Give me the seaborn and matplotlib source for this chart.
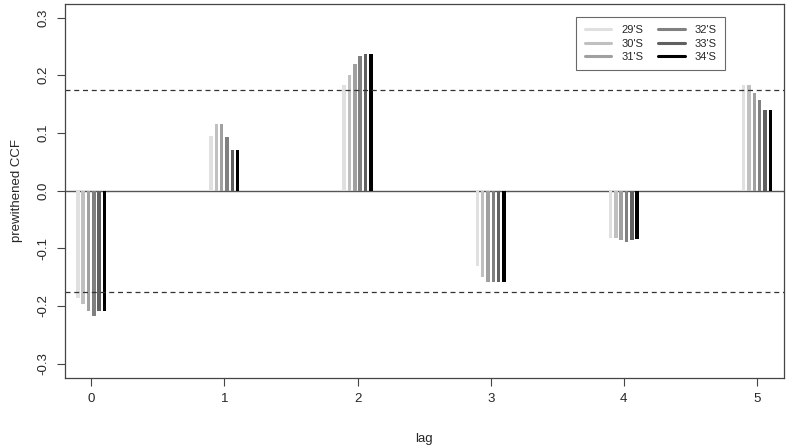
import pandas as pd
import seaborn as sns
import matplotlib
matplotlib.use("Agg")
import matplotlib.pyplot as plt
from matplotlib.lines import Line2D

# data
lags = [0, 1, 2, 3, 4, 5]
latitudes = ["29'S", "30'S", "31'S", "32'S", "33'S", "34'S"]
ccf_29 = [-0.187, 0.094, 0.183, -0.130, -0.082, 0.183]
ccf_30 = [-0.196, 0.116, 0.201, -0.150, -0.082, 0.183]
ccf_31 = [-0.209, 0.116, 0.219, -0.159, -0.085, 0.169]
ccf_32 = [-0.218, 0.093, 0.233, -0.159, -0.089, 0.157]
ccf_33 = [-0.209, 0.071, 0.236, -0.159, -0.085, 0.139]
ccf_34 = [-0.209, 0.071, 0.236, -0.159, -0.084, 0.139]
conf_limit = 0.175

grays = ["#e0e0e0", "#c0c0c0", "#a0a0a0", "#808080", "#606060", "#000000"]

series = [ccf_29, ccf_30, ccf_31, ccf_32, ccf_33, ccf_34]
df = pd.DataFrame(
    [(lag, lat, v) for lat, vals in zip(latitudes, series) for lag, v in zip(lags, vals)],
    columns=["lag", "lat", "ccf"],
)

sns.set_theme(style="ticks")
plt.rcParams["font.family"] = ["Liberation Sans", "DejaVu Sans"]

fig = plt.figure(figsize=(7.88, 4.47), dpi=100)
ax = fig.add_axes([0.0819, 0.155, 0.9126, 0.836])

sns.barplot(data=df, x="lag", y="ccf", hue="lat", hue_order=latitudes,
            palette=grays, width=0.24, gap=0.35, ax=ax, legend=False,
            linewidth=0, saturation=1)

ax.axhline(0, color="#555555", lw=1, zorder=0)
ax.axhline(conf_limit, color="#333333", lw=0.9, ls=(0, (4, 3)))
ax.axhline(-conf_limit, color="#333333", lw=0.9, ls=(0, (4, 3)))

ax.set_xlim(-0.2, 5.2)
ax.set_ylim(-0.3245, 0.3235)
ax.set_yticks([-0.3, -0.2, -0.1, 0.0, 0.1, 0.2, 0.3])
ax.set_yticklabels(["-0.3", "-0.2", "-0.1", "0.0", "0.1", "0.2", "0.3"],
                   rotation=90, va="center")
ax.set_xticks(lags)
ax.set_xticklabels([str(l) for l in lags])
ax.tick_params(length=6, width=0.8, color="#444444", labelsize=9.5, pad=5)
for s in ax.spines.values():
    s.set_visible(True)
    s.set_color("#444444")
    s.set_linewidth(0.9)

ax.set_xlabel("lag", fontsize=9.5, labelpad=20)
ax.set_ylabel("prewithened CCF", fontsize=9.5, labelpad=10)

handles = [Line2D([0], [0], color=c, lw=2.2) for c in grays]
leg = ax.legend(handles, latitudes, ncol=2, loc="upper right",
                bbox_to_anchor=(0.926, 0.98), fontsize=8, frameon=True,
                fancybox=False, handlelength=2.4, columnspacing=1.3,
                labelspacing=0.3, borderpad=0.75, handletextpad=0.9)
leg.get_frame().set_edgecolor("#444444")
leg.get_frame().set_linewidth(0.8)

fig.savefig("out.png", dpi=100)
